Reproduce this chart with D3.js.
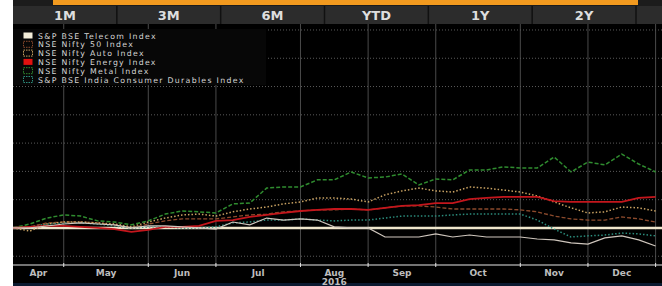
<!doctype html>
<html>
<head>
    <meta http-equiv="Content-type" content="text/html; charset=utf-8"/>
    <script src="https://d3js.org/d3.v7.min.js"></script>
    <style>
        body { margin: 0; background: #fff; }
        svg text { font-family: "DejaVu Sans", Verdana, sans-serif; }
    </style>
</head>
<body>
<svg width="662" height="286"></svg>
<script>
    // ----- data (weekly % change) -----
    var buttons = ["1M", "3M", "6M", "YTD", "1Y", "2Y"];
    var months = ["Apr", "May", "Jun", "Jul", "Aug", "Sep", "Oct", "Nov", "Dec"];
    var yearLabel = "2016";
    var gridValues = [-10, 10, 20, 30, 40, 50, 60, 70];

    var seriesNames = ["S&P BSE Telecom Index", "NSE Nifty 50 Index", "NSE Nifty Auto Index",
                       "NSE Nifty Energy Index", "NSE Nifty Metal Index", "S&P BSE India Consumer Durables Index"];

    var telecom = [0, 0, 0.7, 1.4, 1.8, 1.4, 1.1, 0, 0.7, 0.7, 0.4, 0, -0.4, 2.1, 1.1, 3.5, 2.8, 3.2, 2.8, 0.4,
                   0, 0, -3.2, -3.2, -3.2, -2.1, -3.2, -2.5, -3.2, -3.2, -3.2, -3.9, -4.2, -5.3, -5.7, -3.5, -2.8, -4.2, -6.4];
    var nifty50 = [0, 0.4, 1.8, 2.1, 2.1, 1.8, 1.1, 0, 1.4, 2.5, 3.2, 3.2, 3.2, 3.9, 4.6, 4.9, 5.7, 6.0, 6.4, 6.4,
                   6.7, 6.4, 7.1, 7.8, 7.8, 7.4, 6.7, 6.7, 6.7, 6.7, 6.4, 5.7, 4.2, 3.2, 2.8, 2.8, 3.9, 3.2, 2.1];
    var auto = [0, -1.1, 1.4, 2.1, 2.1, 1.8, 1.4, 0.4, 2.1, 3.5, 4.6, 4.9, 4.2, 5.7, 6.7, 7.4, 8.5, 9.2, 10.6, 10.6,
                10.2, 9.2, 11.7, 13.1, 14.1, 13.1, 12.7, 14.5, 14.1, 13.4, 12.7, 11.3, 9.2, 7.1, 5.3, 5.7, 7.4, 7.1, 6.0];
    var energy = [0, 0.4, 0.7, 0.7, 0.4, 0, -0.4, -1.4, -0.7, 0.4, 0.4, 0.7, 2.5, 2.8, 3.9, 4.6, 5.3, 6.0, 6.4, 6.7,
                  6.7, 6.4, 7.1, 7.8, 8.1, 8.8, 8.8, 10.2, 10.6, 11.0, 11.0, 11.0, 9.5, 9.2, 9.2, 9.2, 9.2, 10.6, 11.0];
    var metal = [0, 1.4, 3.5, 4.6, 4.2, 2.5, 2.1, 1.1, 2.5, 4.9, 6.0, 5.7, 5.3, 8.5, 8.8, 14.1, 14.5, 14.5, 17.0, 17.0,
                 19.8, 17.7, 18.0, 19.1, 15.2, 17.3, 17.0, 20.5, 20.5, 21.6, 21.2, 21.2, 25.1, 19.8, 23.3, 22.3, 26.1, 22.6, 19.8];
    var durables = [0, 0.4, 1.4, 1.8, 1.8, 1.4, 0.7, 0, 0.4, 0.4, 0, 0, 0.4, 1.8, 2.1, 2.8, 2.8, 3.2, 2.8, 2.5,
                    2.8, 2.8, 3.5, 4.2, 4.2, 4.2, 4.6, 4.9, 4.9, 4.9, 4.9, 2.8, -0.4, -3.2, -2.8, -2.5, -1.8, -2.1, -2.8];

    var weeks = d3.timeWeek.range(new Date(2016, 3, 10), new Date(2017, 0, 2));

    var styles = [
        {color: "#cfc6bd", width: 1.2, dash: null, swatch: "fill"},
        {color: "#8c4a2c", width: 1.3, dash: "4,2", swatch: "box"},
        {color: "#c9a262", width: 1.5, dash: "1.5,2", swatch: "box"},
        {color: "#c4161c", width: 1.8, dash: null, swatch: "fill"},
        {color: "#2f8c2f", width: 1.5, dash: "4,2", swatch: "box"},
        {color: "#2b8c7c", width: 1.5, dash: "1.5,2", swatch: "box"}
    ];
    var allSeries = [telecom, nifty50, auto, energy, metal, durables];

    var svg = d3.select("svg");
    var left = 13, right = 662, plotTop = 28, axisY = 265;

    var x = d3.scaleTime().domain([weeks[0], weeks[weeks.length - 1]]).range([left, 655.6]);
    var y = d3.scaleLinear().domain([-13.1, 70.7]).range([axisY, plotTop]);

    // backgrounds
    svg.append("rect").attr("x", left).attr("y", 0).attr("width", right - left).attr("height", 286).attr("fill", "#000");
    svg.append("rect").attr("x", left).attr("y", 283).attr("width", right - left).attr("height", 3).attr("fill", "#0b1a30");

    // top orange strip
    svg.append("rect").attr("x", left).attr("y", 0).attr("width", right - left).attr("height", 6).attr("fill", "#1c1c1c");
    svg.append("rect").attr("x", 53).attr("y", 0).attr("width", 585).attr("height", 5).attr("fill", "#f29a1f");

    // button bar
    var band = d3.scaleBand().domain(buttons).range([left, 636]);
    svg.append("rect").attr("x", left).attr("y", 6).attr("width", right - left).attr("height", 18).attr("fill", "#2c2c2c");
    svg.selectAll(".sep").data(buttons).enter().append("line")
        .attr("x1", function(d) { return band(d) + band.bandwidth(); })
        .attr("x2", function(d) { return band(d) + band.bandwidth(); })
        .attr("y1", 6).attr("y2", 24)
        .attr("stroke", "#111").attr("stroke-width", 1.5);
    svg.selectAll(".btn").data(buttons).enter().append("text")
        .attr("x", function(d) { return band(d) + band.bandwidth() / 2; })
        .attr("y", 20)
        .attr("text-anchor", "middle")
        .attr("font-size", 13).attr("font-weight", "bold")
        .attr("fill", "#dedede")
        .text(function(d) { return d; });

    // month grid lines: first week of each month
    var monthStarts = d3.range(4, 13).map(function(m) { return d3.timeWeek.ceil(new Date(2016, m, 1)); });
    svg.selectAll(".vgrid").data(monthStarts).enter().append("line")
        .attr("x1", function(d) { return x(d); }).attr("x2", function(d) { return x(d); })
        .attr("y1", 24).attr("y2", axisY)
        .attr("stroke", "#4a4a4a").attr("stroke-width", 1);

    svg.selectAll(".hgrid").data(gridValues).enter().append("line")
        .attr("x1", left).attr("x2", right)
        .attr("y1", function(d) { return y(d); }).attr("y2", function(d) { return y(d); })
        .attr("stroke", "#5a5a5a").attr("stroke-width", 1).attr("stroke-dasharray", "1,2");

    // x axis
    svg.append("line").attr("x1", left).attr("x2", right).attr("y1", axisY).attr("y2", axisY)
        .attr("stroke", "#9a9a9a").attr("stroke-width", 1.5);
    svg.selectAll(".tick").data(monthStarts).enter().append("line")
        .attr("x1", function(d) { return x(d); }).attr("x2", function(d) { return x(d); })
        .attr("y1", axisY - 2).attr("y2", axisY + 2)
        .attr("stroke", "#e0e0e0").attr("stroke-width", 1);
    var bounds = [weeks[0]].concat(monthStarts);
    svg.selectAll(".mlab").data(months).enter().append("text")
        .attr("x", function(d, i) { return (x(bounds[i]) + x(bounds[i + 1])) / 2; })
        .attr("y", 276)
        .attr("text-anchor", "middle")
        .attr("font-size", 9).attr("font-weight", "bold")
        .attr("fill", "#bdbdbd")
        .text(function(d) { return d; });
    svg.append("text")
        .attr("x", (x(bounds[4]) + x(bounds[5])) / 2).attr("y", 285)
        .attr("text-anchor", "middle")
        .attr("font-size", 9).attr("font-weight", "bold")
        .attr("fill", "#bdbdbd")
        .text(yearLabel);

    // lines
    svg.append("clipPath").attr("id", "clip").append("rect")
        .attr("x", left).attr("y", plotTop).attr("width", right - left).attr("height", axisY - plotTop);
    var plot = svg.append("g").attr("clip-path", "url(#clip)");

    var line = d3.line()
        .x(function(d, i) { return x(weeks[i]); })
        .y(function(d) { return y(d); });

    // zero reference line
    plot.append("line").attr("x1", left).attr("x2", right).attr("y1", y(0)).attr("y2", y(0))
        .attr("stroke", "#efe6cc").attr("stroke-width", 2.5);

    var order = [5, 1, 2, 4, 3, 0];
    order.forEach(function(k) {
        plot.append("path")
            .datum(allSeries[k])
            .attr("d", line)
            .attr("fill", "none")
            .attr("stroke", styles[k].color)
            .attr("stroke-width", styles[k].width)
            .attr("stroke-dasharray", styles[k].dash);
    });

    // legend
    var legend = svg.append("g");
    legend.append("rect").attr("x", left).attr("y", 29).attr("width", 253).attr("height", 56)
        .attr("fill", "#070707");
    var rows = legend.selectAll(".row").data(seriesNames).enter().append("g")
        .attr("transform", function(d, i) { return "translate(0," + (35.5 + i * 8.8) + ")"; });
    rows.append("rect")
        .attr("x", 23.5).attr("y", -3).attr("width", 9).attr("height", 6)
        .attr("fill", function(d, i) { return styles[i].swatch == "fill" ? (i == 0 ? "#f2ecd8" : "#e0110f") : "none"; })
        .attr("stroke", function(d, i) { return styles[i].swatch == "fill" ? "none" : styles[i].color; })
        .attr("stroke-dasharray", function(d, i) { return styles[i].swatch == "fill" ? null : "1.5,1"; });
    rows.append("text")
        .attr("x", 38).attr("y", 3)
        .attr("font-size", 7.8)
        .attr("letter-spacing", 1.3)
        .attr("fill", "#d6d6d6")
        .text(function(d) { return d; });
</script>
</body>
</html>
